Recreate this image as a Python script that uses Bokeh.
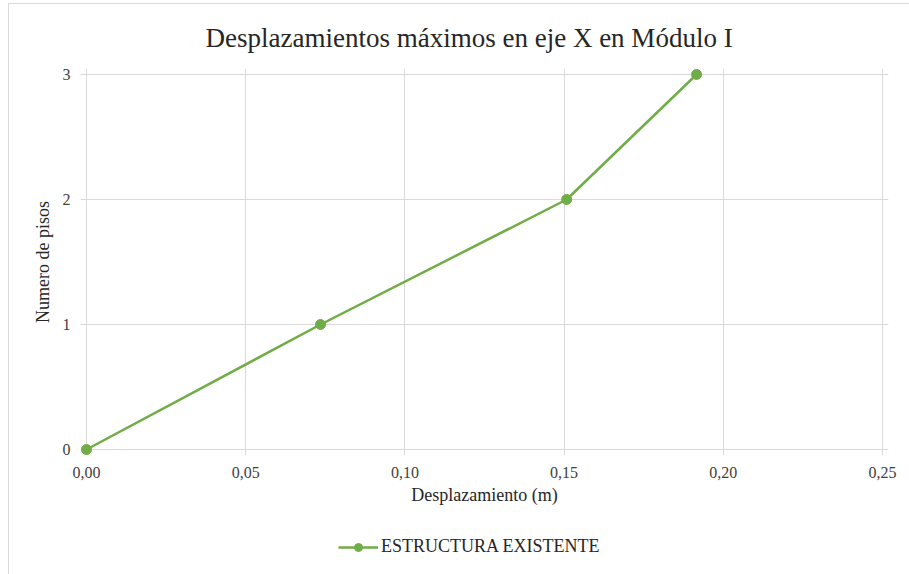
from bokeh.plotting import figure
from bokeh.layouts import column
from bokeh.models import (Range1d, FixedTicker, CustomJSTickFormatter, Legend, LegendItem, Title)
from bokeh.embed import file_html
from bokeh.resources import INLINE

# ---- data ----
desplazamiento = [0.0, 0.0735, 0.1508, 0.1916]
pisos = [0, 1, 2, 3]
serie = "ESTRUCTURA EXISTENTE"
x_ticks = [0.0, 0.05, 0.10, 0.15, 0.20, 0.25]
y_ticks = [0, 1, 2, 3]
titulo = "Desplazamientos  máximos  en eje X en Módulo  I"
x_label = "Desplazamiento (m)"
y_label = "Numero de pisos"

GREEN = "#70ad47"
GRID = "#d9d9d9"
FONT = "Liberation Serif"

xpad = 0.001884
ypad = 0.048

p = figure(width=900, height=520, output_backend="svg", toolbar_location=None,
           x_range=Range1d(x_ticks[0] - xpad, x_ticks[-1] + xpad),
           y_range=Range1d(y_ticks[0] - ypad, y_ticks[-1] + ypad),
           min_border_left=71, min_border_right=21, min_border_top=64, min_border_bottom=69,
           outline_line_color=None, background_fill_color="white", border_fill_color="white")
p.title = None

t = Title(text=titulo, align="left", offset=125, standoff=31,
          text_font=FONT, text_font_size="27px", text_font_style="normal", text_color="#262626")
p.add_layout(t, "above")

# axes
p.xaxis.ticker = FixedTicker(ticks=x_ticks)
p.yaxis.ticker = FixedTicker(ticks=y_ticks)
p.xaxis.formatter = CustomJSTickFormatter(code="return tick.toFixed(2).replace('.', ',');")
p.yaxis.formatter = CustomJSTickFormatter(code="return tick.toFixed(0);")
for ax in (p.xaxis, p.yaxis):
    ax.axis_line_color = None
    ax.major_tick_line_color = None
    ax.minor_tick_line_color = None
    ax.major_label_text_font = FONT
    ax.major_label_text_font_size = "16px"
    ax.major_label_text_color = "#404040"
    ax.axis_label_text_font = FONT
    ax.axis_label_text_font_size = "18px"
    ax.axis_label_text_font_style = "normal"
    ax.axis_label_text_color = "#262626"
p.xaxis.axis_label = x_label
p.yaxis.axis_label = y_label
p.xaxis.major_label_standoff = 5
p.xaxis.axis_label_standoff = 4
p.yaxis.major_label_standoff = 4
p.yaxis.axis_label_standoff = 7

p.xgrid.ticker = FixedTicker(ticks=x_ticks)
p.ygrid.ticker = FixedTicker(ticks=y_ticks)
p.grid.grid_line_color = GRID
p.grid.grid_line_width = 1

p.line(desplazamiento, pisos, line_color=GREEN, line_width=2.5)
p.scatter(desplazamiento, pisos, size=10, fill_color=GREEN, line_color=GREEN)

# legend strip below the chart (same series, shown only as legend entry)
f2 = figure(width=900, height=50, output_backend="svg", toolbar_location=None,
            x_range=Range1d(10, 11), y_range=Range1d(10, 11),
            min_border_left=0, min_border_right=0, min_border_top=0, min_border_bottom=0,
            outline_line_color=None, background_fill_color="white", border_fill_color="white")
f2.axis.visible = False
f2.grid.visible = False
f2.title = None
l_line = f2.line(desplazamiento, pisos, line_color=GREEN, line_width=2.5)
l_pts = f2.scatter(desplazamiento, pisos, size=10, fill_color=GREEN, line_color=GREEN)
legend = Legend(items=[LegendItem(label=serie, renderers=[l_line, l_pts])],
                location=(258, 17), orientation="horizontal",
                padding=0, margin=0, spacing=0,
                glyph_width=40, glyph_height=20, label_height=20, label_standoff=3,
                label_text_font=FONT, label_text_font_size="18px", label_text_color="#262626",
                border_line_color=None, background_fill_alpha=0)
f2.add_layout(legend, "center")

layout = column(p, f2, spacing=0,
                styles={"margin-left": "8px", "margin-top": "3px",
                        "border-left": "1px solid #d9d9d9", "border-top": "1px solid #d9d9d9"})

open("out.html", "w").write(file_html(layout, INLINE))
